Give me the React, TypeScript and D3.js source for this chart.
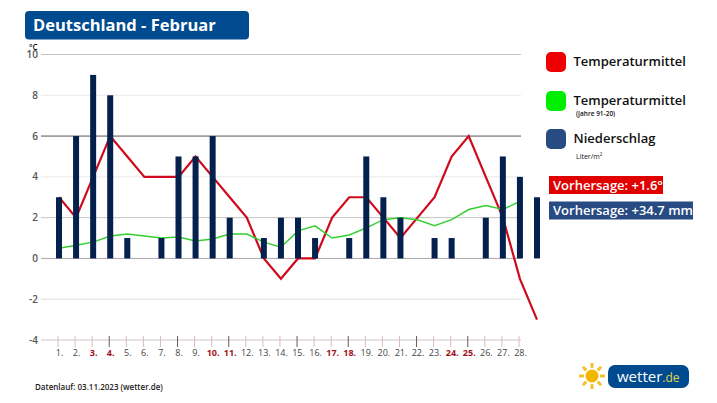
import React from 'react';
import * as d3 from 'd3';

const days = d3.range(1, 29);
const slots = d3.range(1, 30);
const redDays = [3, 4, 10, 11, 17, 18, 24, 25];
const darkTicks = [4, 8, 11, 15, 18, 22, 25];
const yTicks = [10, 8, 6, 4, 2, 0, -2, -4];
const gridColors = ['#c4c4c4', '#e8e8e8', '#555555', '#e8e8e8', '#c4c4c4', '#a8a8a8', '#dedede', '#cfc6c6'];

const rain = [3, 6, 9, 8, 1, 0, 1, 5, 5, 6, 2, 0, 1, 2, 2, 1, 0, 1, 5, 3, 2, 0, 1, 1, 0, 2, 5, 4, 3];
const temp = [3, 2, 4, 6, 5, 4, 4, 4, 5, 4, 3, 2, 0, -1, 0, 0, 2, 3, 3, 2, 1, 2, 3, 5, 6, 4, 2, -1, -3];
const normal = [0.5, 0.65, 0.8, 1.1, 1.2, 1.1, 1.0, 1.05, 0.85, 0.95, 1.2, 1.2, 0.8, 0.55, 1.35, 1.6, 1.0, 1.15, 1.5, 1.9, 2.0, 1.9, 1.6, 1.9, 2.4, 2.6, 2.4, 2.8];

const x = d3.scaleLinear().domain([1, 29]).range([59, 537]);
const tickX = d3.scaleLinear().domain([1, 28]).range([58, 519]);
const y = d3.scaleLinear().domain([-4, 10]).range([340, 54.5]);

const line = d3.line<number>().x((_, i) => x(slots[i])).y((d) => y(d));
const sunRays = d3.range(0, 360, 45);
const font = '"Open Sans", sans-serif';

const LegendEntry = ({ py, color, label }: { py: number; color: string; label: string }) => (
  <g>
    <rect x={546} y={py} width={20} height={20} rx={5} fill={color} />
    <text x={573.5} y={py + 14} fontSize={13} fontWeight={600} fill="#111">{label}</text>
  </g>
);

export default function App() {
  return (
    <svg width={717} height={403} viewBox="0 0 717 403" fontFamily={font}
      style={{ position: 'absolute', left: 0, top: 0, background: '#fff' }}>
      <rect x={25} y={11} width={224} height={28.5} rx={4} fill="#004a8f" />
      <text x={33} y={31} fontSize={16.5} fontWeight={700} fill="#fff">Deutschland - Februar</text>
      <text x={29} y={50} fontSize={8} fontWeight={600} fill="#111">°C</text>

      {yTicks.map((t, i) => (
        <g key={t}>
          <line x1={41} x2={521} y1={y(t)} y2={y(t)} stroke={gridColors[i]} strokeWidth={1} />
          <text x={38} y={y(t) + 3.5} textAnchor="end" fontSize={10} fontWeight={600} fill="#555">{t}</text>
        </g>
      ))}

      {days.map((d) => (
        <g key={d}>
          <line x1={tickX(d)} x2={tickX(d)} y1={336} y2={347}
            stroke={darkTicks.includes(d) ? '#6b5b5b' : '#d8bcbc'} strokeWidth={1} />
          <text x={tickX(d) + 1.5} y={356} textAnchor="middle" fontSize={9} fontWeight={redDays.includes(d) ? 700 : 400}
            fill={redDays.includes(d) ? '#a3101c' : '#444'}>{d}.</text>
        </g>
      ))}

      <path d={line(temp) ?? ''} fill="none" stroke="#cf0a1c" strokeWidth={2.2} strokeLinejoin="miter" />
      <path d={line(normal) ?? ''} fill="none" stroke="#35d030" strokeWidth={1.5} />

      {rain.map((r, i) => r > 0 && (
        <rect key={i} x={x(slots[i]) - 3} y={y(r)} width={6} height={y(0) - y(r)} fill="#04214d" />
      ))}

      <LegendEntry py={52} color="#ee0000" label="Temperaturmittel" />
      <LegendEntry py={91} color="#00ee00" label="Temperaturmittel" />
      <text x={576} y={116} fontSize={6.5} fontWeight={600} fill="#111">(Jahre 91-20)</text>
      <LegendEntry py={129} color="#274b82" label="Niederschlag" />
      <text x={576} y={159} fontSize={7} fill="#111">Liter/m<tspan fontSize={4.5} dy={-3}>2</tspan></text>

      <rect x={549} y={176} width={114} height={18} fill="#e00000" />
      <text x={553} y={190} fontSize={13} fontWeight={600} fill="#fff">Vorhersage: +1.6°</text>
      <rect x={549} y={201.5} width={144} height={18} fill="#274b82" />
      <text x={553} y={215} fontSize={13} fontWeight={600} fill="#fff">Vorhersage: +34.7 mm</text>

      <text x={35} y={390} fontSize={8} fontWeight={600} fill="#222">Datenlauf: 03.11.2023 (wetter.de)</text>

      <g transform="translate(592,376)">
        <circle r={6.5} fill="#eeb800" />
        {sunRays.map((a) => (
          <rect key={a} x={-1.5} y={-13} width={3} height={5} fill="#f2c230" transform={`rotate(${a})`} />
        ))}
      </g>
      <rect x={608} y={365} width={81} height={23} rx={7} fill="#004a8f" />
      <text x={617} y={382} fontSize={15} fill="#fff">wetter<tspan fill="#e3d64a" fontSize={12}>.de</tspan></text>
    </svg>
  );
}
